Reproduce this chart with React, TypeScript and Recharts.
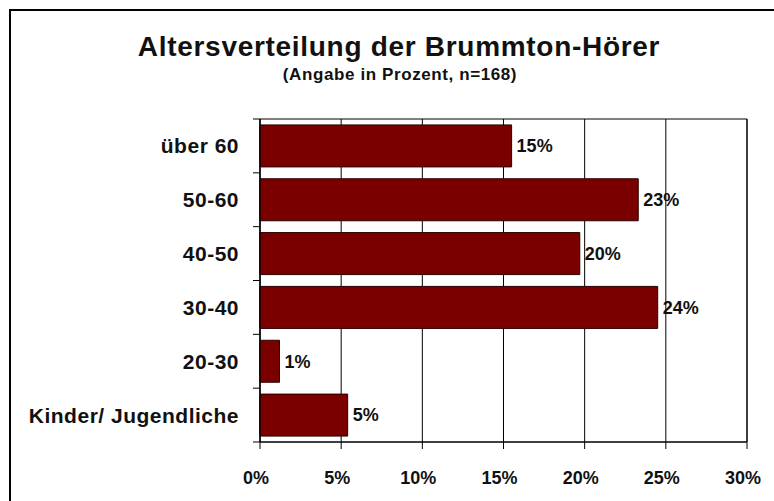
import React from 'react'
import {
  BarChart,
  Bar,
  XAxis,
  YAxis,
  CartesianGrid,
  LabelList,
  ReferenceArea,
} from 'recharts'

const ageGroups = [
  'über 60',
  '50-60',
  '40-50',
  '30-40',
  '20-30',
  'Kinder/ Jugendliche',
]
const shares = [15.5, 23.3, 19.7, 24.5, 1.2, 5.4]
const shareLabels = ['15%', '23%', '20%', '24%', '1%', '5%']
const xTicks = [0, 5, 10, 15, 20, 25, 30]

const W = 774
const H = 501
const TOP = 119
const BOTTOM_GAP = 59
const PLOT_H = H - TOP - BOTTOM_GAP
const FONT = '"Liberation Sans", Arial, sans-serif'

const chartData = ageGroups.map((age, i) => ({
  age,
  value: shares[i],
  label: shareLabels[i],
}))

function AgeTick(props: any) {
  const { x, y, payload, index, visibleTicksCount } = props
  const half = PLOT_H / ageGroups.length / 2
  return (
    <g>
      <line x1={x - 7} x2={x} y1={y - half} y2={y - half} stroke="#000" />
      {index === visibleTicksCount - 1 && (
        <line x1={x - 7} x2={x} y1={y + half} y2={y + half} stroke="#000" />
      )}
      <text
        x={x - 21}
        y={y}
        dy="0.36em"
        textAnchor="end"
        fill="#111"
        style={{ fontFamily: FONT, fontSize: 21, fontWeight: 'bold', letterSpacing: 0.5 }}
      >
        {payload.value}
      </text>
    </g>
  )
}

export default function App() {
  return (
    <div
      style={{
        position: 'absolute',
        left: 0,
        top: 0,
        width: W,
        height: H,
        overflow: 'hidden',
        background: '#fff',
      }}
    >
      <div
        style={{
          position: 'absolute',
          left: 9,
          top: 9,
          width: 820,
          height: 540,
          border: '2px solid #000',
        }}
      />
      <div
        style={{
          position: 'absolute',
          left: 0,
          top: 33,
          width: 798,
          textAlign: 'center',
          fontFamily: FONT,
          fontSize: 28,
          lineHeight: '28px',
          fontWeight: 'bold',
          letterSpacing: 0.7,
          color: '#111',
        }}
      >
        Altersverteilung der Brummton-Hörer
      </div>
      <div
        style={{
          position: 'absolute',
          left: 0,
          top: 66,
          width: 800,
          textAlign: 'center',
          fontFamily: FONT,
          fontSize: 17,
          lineHeight: '17px',
          fontWeight: 'bold',
          letterSpacing: 0.6,
          color: '#111',
        }}
      >
        (Angabe in Prozent, n=168)
      </div>
      <div style={{ position: 'absolute', left: 0, top: 0 }}>
        <BarChart
          width={W}
          height={H}
          data={chartData}
          layout="vertical"
          margin={{ top: TOP, right: 27, bottom: BOTTOM_GAP - 40, left: 0 }}
          barCategoryGap="11%"
        >
          <CartesianGrid horizontal={false} stroke="#000" strokeWidth={1} />
          <ReferenceArea
            x1={0}
            x2={30}
            fill="none"
            stroke="#000"
            strokeWidth={1}
            fillOpacity={0}
            ifOverflow="visible"
          />
          <XAxis
            type="number"
            domain={[0, 30]}
            ticks={xTicks}
            height={40}
            interval={0}
            tickFormatter={(v: number) => `${v}%`}
            axisLine={{ stroke: '#000' }}
            tickLine={{ stroke: '#000' }}
            tickSize={7}
            tickMargin={22}
            tick={{ fill: '#111', fontSize: 18, fontWeight: 'bold', fontFamily: FONT, dx: -4 }}
          />
          <YAxis
            type="category"
            dataKey="age"
            width={260}
            interval={0}
            tickSize={0}
            tickMargin={0}
            tickLine={false}
            axisLine={{ stroke: '#000' }}
            tick={<AgeTick />}
          />
          <Bar
            dataKey="value"
            fill="#7a0000"
            stroke="#2a0000"
            strokeWidth={1}
            isAnimationActive={false}
          >
            <LabelList
              dataKey="label"
              position="right"
              offset={5}
              fill="#111"
              style={{ fontFamily: FONT, fontSize: 18, fontWeight: 'bold' }}
            />
          </Bar>
        </BarChart>
      </div>
    </div>
  )
}
